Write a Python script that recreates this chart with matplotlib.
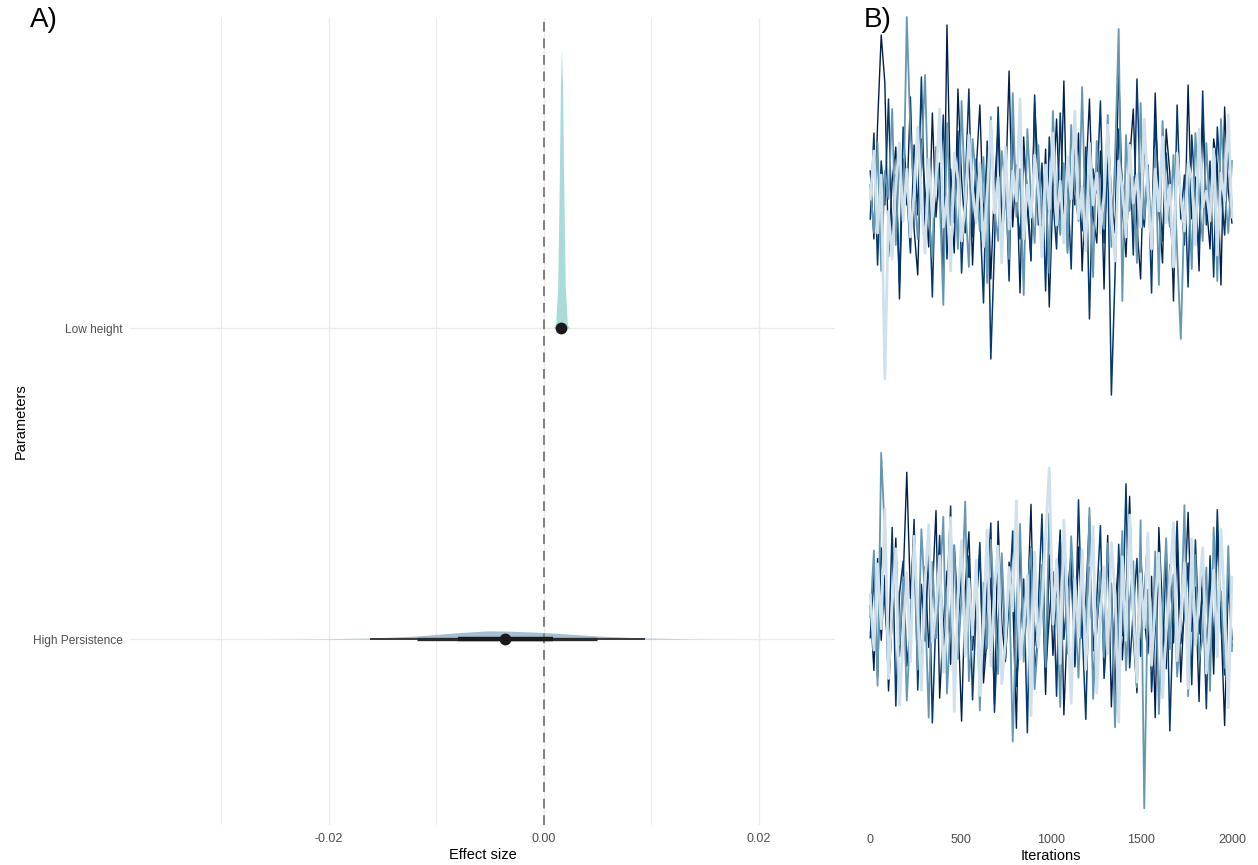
import numpy as np
import matplotlib
matplotlib.use("Agg")
import matplotlib.pyplot as plt

plt.rcParams['font.family'] = ['Liberation Sans', 'DejaVu Sans']

# ---- panel A: half-eye summaries (effect size units) ----
params = ["High Persistence", "Low height"]
slab_colors = ["#a4bfd1", "#a9dcd8"]

hp_x = [-0.026, -0.021, -0.0162, -0.0118, -0.008, -0.0053, -0.0036, -0.0001, 0.005, 0.0094, 0.0145, 0.019]
hp_dens = [0, 2, 7, 24, 50, 64, 63, 52, 24, 8, 1, 0]
lh_x = [0.0009, 0.0011, 0.0013, 0.00145, 0.00155, 0.00165, 0.00175, 0.00185, 0.002, 0.0022, 0.0024]
lh_dens = [0, 25, 330, 1200, 1900, 2200, 1900, 1200, 330, 25, 0]

point_est = [-0.0036, 0.00165]
int_95 = [(-0.0162, 0.0094), (0.0013, 0.0020)]
int_80 = [(-0.0118, 0.0050), (0.00142, 0.00188)]
int_50 = [(-0.0080, 0.0009), (0.00153, 0.00177)]

# ---- panel B: trace draws (thinned, 100 per chain) ----
# Low height, units of 1e-5
lh_chain1 = [162, 128, 185, 230, 206, 119, 157, 174, 98, 168,
             145, 199, 133, 110, 178, 152, 124, 191, 139, 166,
             104, 235, 147, 121, 203, 158, 131, 176, 115, 162,
             195, 137, 170, 108, 154, 184, 126, 149, 212, 134,
             165, 101, 179, 143, 118, 196, 160, 129, 173, 94,
             151, 188, 136, 207, 122, 163, 145, 181, 112, 157,
             198, 140, 126, 172, 103, 186, 150, 131, 215, 144,
             119, 167, 193, 135, 108, 176, 155, 127, 201, 142,
             116, 183, 161, 97, 170, 148, 125, 205, 138, 159,
             112, 189, 146, 123, 178, 165, 105, 194, 152, 136]
lh_chain2 = [138, 181, 115, 167, 145, 198, 127, 160, 106, 184,
             152, 121, 175, 140, 209, 133, 158, 99, 171, 147,
             190, 118, 163, 136, 182, 111, 155, 203, 129, 168,
             142, 96, 177, 68, 124, 194, 137, 161, 107, 185,
             146, 128, 172, 153, 117, 200, 135, 166, 102, 179,
             148, 123, 191, 139, 157, 113, 186, 144, 132, 174,
             88, 163, 151, 197, 126, 169, 50, 110, 183, 156,
             130, 176, 120, 208, 147, 134, 165, 101, 188, 153,
             127, 171, 143, 115, 195, 138, 160, 104, 180, 149,
             122, 202, 135, 167, 109, 184, 154, 130, 173, 144]
lh_chain3 = [155, 131, 176, 112, 162, 148, 193, 125, 170, 138,
             239, 181, 153, 128, 167, 210, 141, 119, 174, 150,
             95, 186, 135, 160, 123, 197, 146, 114, 178, 157,
             132, 169, 106, 189, 143, 127, 172, 154, 118, 201,
             139, 163, 100, 183, 149, 126, 175, 136, 158, 111,
             192, 145, 130, 166, 121, 185, 152, 137, 204, 128,
             161, 109, 177, 147, 133, 190, 124, 168, 233, 97,
             180, 142, 159, 116, 196, 138, 164, 129, 173, 105,
             187, 151, 134, 170, 122, 78, 144, 160, 113, 181,
             148, 127, 176, 139, 163, 107, 188, 153, 131, 167]
lh_chain4 = [148, 172, 131, 160, 58, 142, 118, 155, 176, 137,
             163, 129, 151, 184, 146, 121, 168, 139, 157, 193,
             134, 149, 112, 171, 158, 127, 145, 180, 153, 136,
             166, 124, 150, 187, 141, 159, 116, 174, 133, 162,
             147, 198, 128, 155, 139, 170, 152, 119, 165, 143,
             181, 135, 157, 126, 169, 148, 192, 138, 154, 122,
             176, 145, 161, 131, 150, 185, 140, 117, 167, 153,
             129, 175, 146, 160, 134, 188, 151, 123, 163, 142,
             179, 136, 155, 114, 171, 149, 132, 166, 158, 125,
             183, 144, 152, 137, 173, 120, 161, 147, 190, 139]

# High Persistence, units of 1e-4
hp_chain1 = [-22, -95, 31, -61, 12, -118, -37, 54, -79, 5,
             128, -14, 68, -53, -101, 22, -69, -8, 85, -126,
             -44, 17, -88, 46, -30, -152, -3, 61, -72, -19,
             38, -109, -56, 9, -133, 73, -41, -85, 27, -12,
             -160, 50, -66, -27, 92, -97, -50, 14, -122, 35,
             -78, -6, 63, -145, -33, 20, -91, 44, -59, -16,
             79, -112, -47, 3, -70, 57, -136, -24, 29, -83,
             -10, 101, -57, -120, 41, -36, -76, 11, -148, 66,
             -29, -93, 24, -64, 48, -108, -18, 83, -51, -1,
             -130, 37, -74, 16, -99, 59, -39, -157, 7, -68]
hp_chain2 = [-58, 14, -103, 43, -21, -77, 66, -135, -9, 28,
             -90, -46, 75, -117, 2, -62, 39, -154, -31, 57,
             -84, -13, 90, -107, -49, 19, -71, 34, -128, -26,
             49, -96, -3, 71, -142, -40, 25, -81, -18, 62,
             -113, -52, 8, -165, 44, -67, -22, 81, -98, -35,
             16, -124, 53, -60, -7, 36, -88, 97, -45, -150,
             21, -73, -15, 68, -104, -38, 3, -131, 47, -56,
             115, -92, -28, 31, -79, -11, 59, -119, -48, 13,
             -86, 40, -163, -20, 73, -65, -33, 26, -111, 52,
             -54, -2, -138, 34, -75, 86, -42, -100, 18, -60]
hp_chain3 = [-35, 40, -112, 150, 58, -87, -24, 30, -66, 10,
             -129, -43, 33, -94, 64, -17, -148, 27, -59, -1,
             78, -121, -38, 46, -82, -12, 95, -107, -50, 20,
             -140, 4, -70, 52, -28, -99, 37, -63, 11, -175,
             -31, 70, -85, -8, 43, -116, -54, 24, -91, 82,
             -46, -14, -136, 30, -76, 56, -23, -103, 6, -61,
             88, -127, -41, 17, -80, 48, -9, -159, -34, 62,
             -95, -20, 28, -114, 74, -250, -4, -88, 39, -144,
             -27, 54, -71, 13, -102, -45, 91, -124, -16, 35,
             -83, -57, 21, -118, 66, -30, -6, -92, 45, -73]
hp_chain4 = [-10, -72, 25, -48, 87, -104, -20, 42, -134, -57,
             15, -85, 56, -31, -117, 4, 69, -63, -26, 34,
             -97, -45, 77, -141, -15, 51, -79, 8, -55, 29,
             -123, -37, 63, -90, -4, 45, -110, -64, 21, -28,
             96, -82, -49, 12, -146, 38, -69, -19, 58, 133,
             -43, 30, -87, 74, -25, -132, 9, -58, 41, -94,
             -13, 67, -120, -35, 22, -76, 49, -8, -153, 33,
             -61, 80, -29, -108, 14, -47, 60, -89, -21, 37,
             -126, -53, 5, 71, -84, -32, 26, -115, 53, -66,
             -11, 43, -98, -39, 18, -80, 64, -24, -137, 10]

chain_colors = ["#011f4b", "#03396c", "#6497b1", "#d1e1ec"]
chain_widths = [1.0, 1.1, 1.3, 2.0]
iter_ticks = [0, 500, 1000, 1500, 2000]

fig = plt.figure(figsize=(12.58, 8.65), dpi=100)
W, H = 1258, 865


def px_axes(x0, y0, x1, y1):
    return fig.add_axes([x0 / W, 1 - y1 / H, (x1 - x0) / W, (y1 - y0) / H])


grey = "#4d4d4d"

# ---- panel A ----
ax = px_axes(130, 18, 835, 825)
ax.set_xlim(-0.0385, 0.0271)
ax.set_ylim(0.402, 2.997)
for s in ax.spines.values():
    s.set_visible(False)

ax.set_xticks([-0.02, 0.0, 0.02])
ax.set_xticklabels(["-0.02", "0.00", "0.02"])
ax.set_xticks([-0.03, -0.01, 0.01], minor=True)
ax.set_yticks([1, 2])
ax.set_yticklabels(params)
ax.tick_params(which="both", length=0, colors=grey, labelsize=8.6)
ax.tick_params(axis="x", pad=6, labelsize=9)
ax.tick_params(axis="y", pad=5)
ax.grid(which="major", color="#ebebeb", lw=1.0, zorder=0)
ax.grid(which="minor", axis="x", color="#ebebeb", lw=0.7, zorder=0)
ax.set_axisbelow(True)

dmax = max(max(hp_dens), max(lh_dens))
slabs = [(hp_x, hp_dens), (lh_x, lh_dens)]
for i, (xs, ds) in enumerate(slabs):
    pos = i + 1
    top = pos + np.array(ds) / dmax * 0.9
    ax.fill_between(xs, pos, top, color=slab_colors[i], lw=0, zorder=2)

ax.axvline(0, color="#7f7f7f", lw=1.4, dashes=(5, 3.5), zorder=2.5)

for i in range(len(params)):
    pos = i + 1
    ax.plot(int_95[i], [pos, pos], color="#3a3a3a", lw=1.4, solid_capstyle="butt", zorder=3)
    ax.plot(int_80[i], [pos, pos], color="#2a2a2a", lw=2.4, solid_capstyle="butt", zorder=3)
    ax.plot(int_50[i], [pos, pos], color="#1a1a1a", lw=3.2, solid_capstyle="butt", zorder=3)
    ax.plot(point_est[i], pos, "o", ms=7.5, color="#1a1a1a", zorder=4)

ax.set_xlabel("Effect size", fontsize=10.5, labelpad=2)
ax.set_ylabel("Parameters", fontsize=10.5, labelpad=4)

# ---- panel B ----
iterations = np.linspace(1, 2000, 100)
top_chains = [lh_chain1, lh_chain2, lh_chain3, lh_chain4]
bot_chains = [hp_chain1, hp_chain2, hp_chain3, hp_chain4]

axt = px_axes(865, 0, 1237, 415)
axb = px_axes(865, 435, 1237, 826)
for a, chains, unit, ylim in [(axt, top_chains, 1e-5, (40e-5, 247.5e-5)),
                              (axb, bot_chains, 1e-4, (-270e-4, 170e-4))]:
    for ch, col, w in zip(chains, chain_colors, chain_widths):
        a.plot(iterations, np.array(ch) * unit, color=col, lw=w)
    a.set_xlim(-28, 2028)
    a.set_ylim(*ylim)
    for s in a.spines.values():
        s.set_visible(False)
    a.set_yticks([])
    a.set_xticks(iter_ticks)
    a.tick_params(length=0, colors=grey, labelsize=9, pad=6)

axt.set_xticklabels([])
axb.set_xlabel("Iterations", fontsize=10.5, labelpad=2)

fig.text(30 / W, 1 - 20 / H, "A)", fontsize=20, va="center", ha="left")
fig.text(864 / W, 1 - 20 / H, "B)", fontsize=20, va="center", ha="left")

fig.savefig("out.png", dpi=100)
